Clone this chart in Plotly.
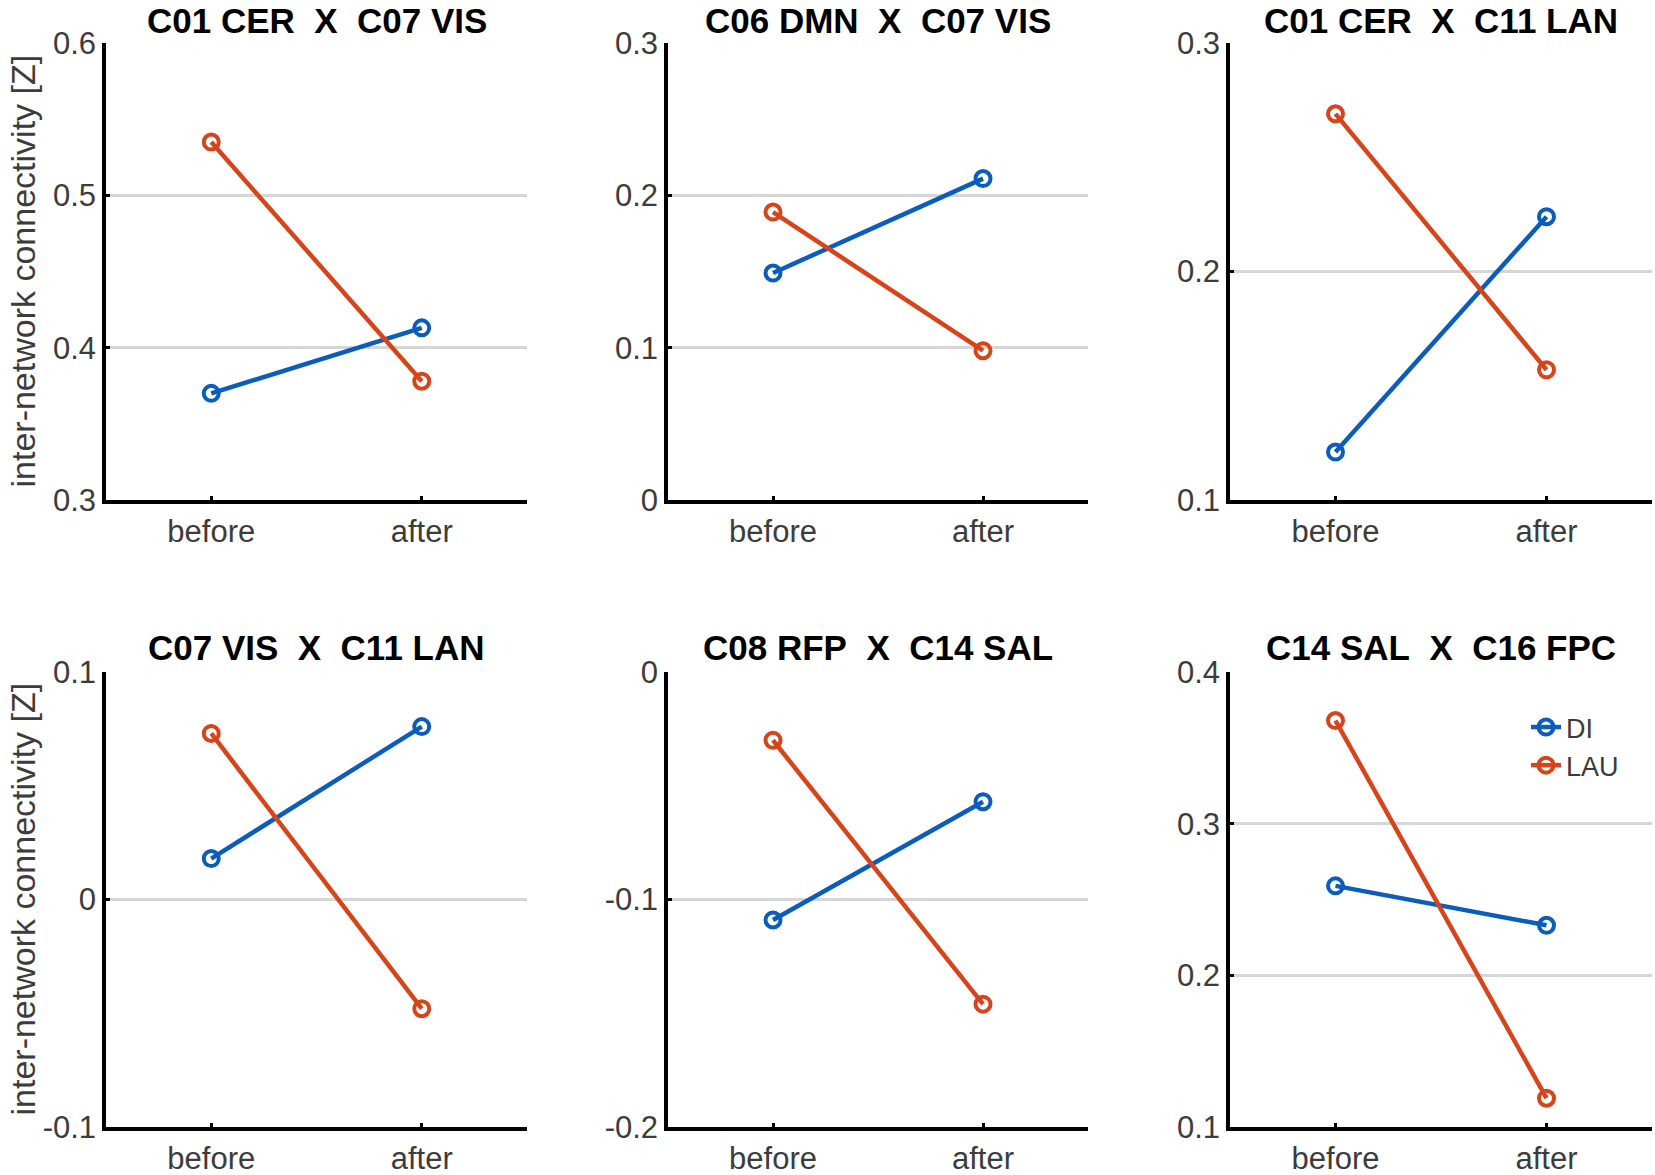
import plotly.graph_objects as go

W, H = 1655, 1175

# data
phases = ["before", "after"]
titles = ["C01 CER  X  C07 VIS", "C06 DMN  X  C07 VIS", "C01 CER  X  C11 LAN",
          "C07 VIS  X  C11 LAN", "C08 RFP  X  C14 SAL", "C14 SAL  X  C16 FPC"]
di_vals = [[0.370, 0.413], [0.149, 0.211], [0.121, 0.224],
           [0.018, 0.076], [-0.109, -0.057], [0.259, 0.233]]
lau_vals = [[0.535, 0.378], [0.189, 0.098], [0.269, 0.157],
            [0.073, -0.048], [-0.030, -0.146], [0.368, 0.119]]
y_ranges = [[0.3, 0.6], [0, 0.3], [0.1, 0.3], [-0.1, 0.1], [-0.2, 0], [0.1, 0.4]]
y_ticks = [[0.3, 0.4, 0.5, 0.6], [0, 0.1, 0.2, 0.3], [0.1, 0.2, 0.3],
           [-0.1, 0, 0.1], [-0.2, -0.1, 0], [0.1, 0.2, 0.3, 0.4]]
y_ticktext = [["0.3", "0.4", "0.5", "0.6"], ["0", "0.1", "0.2", "0.3"], ["0.1", "0.2", "0.3"],
              ["-0.1", "0", "0.1"], ["-0.2", "-0.1", "0"], ["0.1", "0.2", "0.3", "0.4"]]
y_label = "inter-network connectivity [Z]"

BLUE = "#0a5cbd"
ORANGE = "#d8441a"
FONT = "Liberation Sans, Arial, sans-serif"
TICK_GRAY = "#3c3c3c"

# panel boxes in pixels: left, right, top, bottom
boxes = [(106, 527, 43, 500), (668, 1088, 43, 500), (1230, 1652, 43, 500),
         (106, 527, 672, 1127), (668, 1088, 672, 1127), (1230, 1652, 672, 1127)]
title_y = [20, 20, 20, 647, 647, 647]


def px_x(v):
    return min(1.0, max(0.0, v / W))


def px_y(v):
    return min(1.0, max(0.0, 1 - v / H))


fig = go.Figure()
annotations = []
layout = {}

for i in range(6):
    n = "" if i == 0 else str(i + 1)
    l, r, t, b = boxes[i]
    fig.add_trace(go.Scatter(
        x=phases, y=di_vals[i], name="DI", mode="lines+markers",
        line=dict(color=BLUE, width=4.5),
        marker=dict(symbol="circle-open", size=15, color=BLUE, line=dict(width=4, color=BLUE)),
        xaxis="x" + n, yaxis="y" + n, showlegend=(i == 5)))
    fig.add_trace(go.Scatter(
        x=phases, y=lau_vals[i], name="LAU", mode="lines+markers",
        line=dict(color=ORANGE, width=4.5),
        marker=dict(symbol="circle-open", size=15, color=ORANGE, line=dict(width=4, color=ORANGE)),
        xaxis="x" + n, yaxis="y" + n, showlegend=(i == 5)))

    layout["xaxis" + n] = dict(
        domain=[px_x(l), px_x(r)], anchor="y" + n, range=[-0.5, 1.5], automargin=False,
        showgrid=False, zeroline=False, showline=True, linecolor="black", linewidth=3.5,
        ticks="inside", ticklen=4, tickwidth=3, tickcolor="black",
        tickfont=dict(size=31, color=TICK_GRAY, family=FONT), ticklabelstandoff=1,
        fixedrange=True)
    layout["yaxis" + n] = dict(
        domain=[px_y(b), px_y(t)], anchor="x" + n, range=y_ranges[i], automargin=False,
        tickvals=y_ticks[i], ticktext=y_ticktext[i],
        showgrid=True, gridcolor="#d6d6d6", gridwidth=2.5, zeroline=False,
        showline=True, linecolor="black", linewidth=3.5,
        ticks="inside", ticklen=4, tickwidth=3, tickcolor="black",
        tickfont=dict(size=31, color=TICK_GRAY, family=FONT), ticklabelstandoff=0,
        fixedrange=True)

    annotations.append(dict(
        text="<b>" + titles[i].replace(" ", "\u00a0") + "</b>",
        x=px_x((l + r) / 2), y=px_y(title_y[i]), xref="paper", yref="paper",
        xanchor="center", yanchor="middle", showarrow=False,
        font=dict(size=35, color="black", family=FONT)))

    if i % 3 == 0:
        annotations.append(dict(
            text=y_label, textangle=-90, x=px_x(22), y=px_y((t + b) / 2),
            xref="paper", yref="paper", xanchor="center", yanchor="middle",
            showarrow=False, font=dict(size=34, color=TICK_GRAY, family=FONT)))

fig.update_layout(
    width=W, height=H, margin=dict(l=0, r=0, t=0, b=0, autoexpand=False),
    paper_bgcolor="white", plot_bgcolor="white",
    annotations=annotations,
    legend=dict(x=px_x(1526), y=px_y(703), xanchor="left", yanchor="top",
                bgcolor="rgba(0,0,0,0)", font=dict(size=27, color=TICK_GRAY, family=FONT),
                itemwidth=30, tracegroupgap=0),
    **layout)

# drop the default page margin so the figure sits at the window's top-left corner
fig.write_html("out.html", config={"displayModeBar": False},
               post_script="document.body.style.margin = '0px';")
